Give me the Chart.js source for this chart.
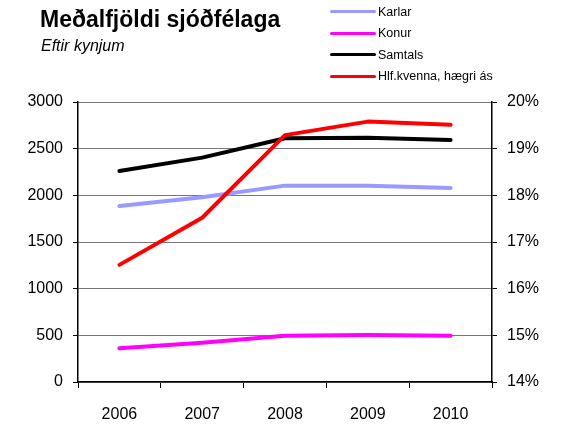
<!DOCTYPE html>
<html>
<head>
<meta charset="utf-8">
<script src="https://cdn.jsdelivr.net/npm/chart.js@4"></script>
<style>
body { margin: 0; background: #fff; font-family: "Liberation Sans", Arial, sans-serif; }
#wrap { position: relative; width: 561px; height: 427px; }
#title { position: absolute; left: 40px; top: 6px; font-size: 23px; font-weight: bold; color: #000; }
#sub { position: absolute; left: 41px; top: 37px; font-size: 16px; font-style: italic; color: #000; }
#legend { position: absolute; left: 330px; top: 1px; font-size: 12.5px; }
.row { height: 21.5px; display: flex; align-items: center; }
.sw { width: 46px; height: 3px; margin-right: 2px; border-radius: 2px; }
</style>
</head>
<body>
<div id="wrap">
<canvas id="lineChart" width="561" height="427"></canvas>
<div id="title">Meðalfjöldi sjóðfélaga</div>
<div id="sub">Eftir kynjum</div>
<div id="legend"></div>
</div>
<script>
var years = ["2006", "2007", "2008", "2009", "2010"];
var karlar = [1886, 1979, 2104, 2104, 2079];
var konur = [361, 421, 496, 504, 496];
var samtals = [2261, 2404, 2611, 2618, 2593];
var hlfKvenna = [16.51, 17.52, 19.29, 19.58, 19.51];
var seriesNames = ["Karlar", "Konur", "Samtals", "Hlf.kvenna, hægri ás"];
var seriesColors = ["#9999ff", "#ff00ff", "#000000", "#ff0000"];

// legend
var leg = document.getElementById("legend");
for (var i = 0; i < seriesNames.length; i++) {
    var row = document.createElement("div");
    row.className = "row";
    row.innerHTML = '<span class="sw" style="background:' + seriesColors[i] + '"></span>' + seriesNames[i];
    leg.appendChild(row);
}

var tickFont = { family: "Liberation Sans", size: 16 };
function ds(label, data, color, axis) {
    return {
        label: label, data: data, borderColor: color, backgroundColor: color,
        borderWidth: 4, pointRadius: 0, tension: 0, yAxisID: axis,
        borderCapStyle: "round", borderJoinStyle: "round"
    };
}

new Chart(document.getElementById("lineChart").getContext("2d"), {
    type: "line",
    data: {
        labels: years,
        datasets: [
            ds(seriesNames[3], hlfKvenna, seriesColors[3], "y1"),
            ds(seriesNames[0], karlar, seriesColors[0], "y"),
            ds(seriesNames[1], konur, seriesColors[1], "y"),
            ds(seriesNames[2], samtals, seriesColors[2], "y")
        ]
    },
    options: {
        responsive: false,
        animation: false,
        layout: { padding: { top: 102, left: 0, right: 0, bottom: 0 } },
        plugins: { legend: { display: false }, tooltip: { enabled: false } },
        scales: {
            x: {
                offset: true,
                grid: { offset: true, drawOnChartArea: false, tickLength: 6, color: "#000" },
                border: { color: "#000", width: 1.5 },
                ticks: { color: "#000", font: tickFont, padding: 17 },
                afterFit: function(s) { s.height = 45; }
            },
            y: {
                position: "left",
                min: 0, max: 3000,
                ticks: { stepSize: 500, color: "#000", font: tickFont, padding: 10,
                    callback: function(v) { return String(v); } },
                grid: { color: "#777", tickLength: 5, tickColor: "#000" },
                border: { color: "#000", width: 1.5 },
                afterFit: function(s) { s.width = 78; }
            },
            y1: {
                position: "right",
                min: 14, max: 20,
                ticks: { stepSize: 1, color: "#000", font: tickFont, padding: 10,
                    callback: function(v) { return v + "%"; } },
                grid: { drawOnChartArea: false, tickLength: 5, color: "#000" },
                border: { color: "#000", width: 1.5 },
                afterFit: function(s) { s.width = 69; }
            }
        }
    }
});
</script>
</body>
</html>
